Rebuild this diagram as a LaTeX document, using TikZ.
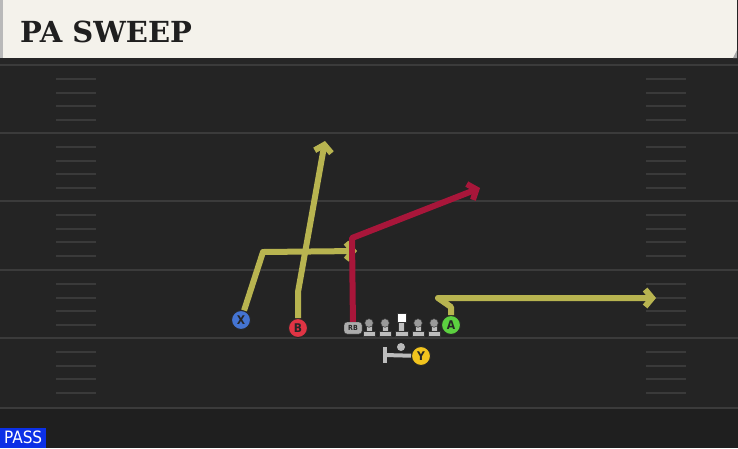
\documentclass[tikz,border=0pt]{standalone}
\usepackage{fontspec}
\setmainfont{DejaVu Sans}
\newfontfamily\titlefont{DejaVu Serif}
\newfontfamily\labelfont{DejaVu Sans Condensed}
\usetikzlibrary{arrows.meta}
\definecolor{field}{HTML}{242424}
\definecolor{fieldlow}{HTML}{1F1F1F}
\definecolor{yardline}{HTML}{3B3B3B}
\definecolor{hashmark}{HTML}{3A3A3A}
\definecolor{header}{HTML}{F4F2EB}
\definecolor{routeyellow}{HTML}{B8B450}
\definecolor{routered}{HTML}{A8163A}
\definecolor{xblue}{HTML}{4474D2}
\definecolor{bred}{HTML}{E03444}
\definecolor{agreen}{HTML}{5CD040}
\definecolor{yyellow}{HTML}{F2C41E}
\definecolor{linegray}{HTML}{BDBDBD}
\definecolor{headgray}{HTML}{9A9A9A}
\definecolor{passblue}{HTML}{0B30E6}
\begin{document}
\begin{tikzpicture}[x=1pt, y=-1pt]
  \tikzstyle{player}=[circle, draw=black!85, line width=1pt, minimum size=19pt,
    inner sep=0pt, font=\labelfont\bfseries\fontsize{12}{12}\selectfont, text=black!85]
  \tikzstyle{route}=[line width=6pt, line join=round,
    -{Straight Barb[length=7pt, width=17pt]}]
  \tikzstyle{lineman}=[fill=linegray, draw=black!80, line width=0.5pt]
  \useasboundingbox (0,0) rectangle (738,448);
  \fill[field] (0,0) rectangle (738,448);
  \fill[fieldlow] (0,409) rectangle (738,448);
  \fill[black!85] (0,58) rectangle (738,64);
  \foreach \y in {65, 133, 201, 270, 338, 408} {
    \draw[yardline, line width=2pt] (0, \y) -- (738, \y);
  }
  \foreach \y in {65, 133, 201, 270, 338} {
    \foreach \d in {14, 28, 41, 55} {
      \draw[hashmark, line width=1.6pt] (56, \y+\d) -- (96, \y+\d);
      \draw[hashmark, line width=1.6pt] (646, \y+\d) -- (686, \y+\d);
    }
  }
  \fill[header] (0,0) rectangle (737,58);
  \fill[gray!55] (0,0) rectangle (3,58);
  \fill[gray!70] (737,50) -- (737,58) -- (733,58) -- cycle;
  \node[anchor=base west, inner sep=0pt, text=black!88,
    font=\titlefont\bfseries\fontsize{29}{29}\selectfont] (title) at (20,42) {PA SWEEP};
  \node[anchor=south west, fill=passblue, text=white, inner sep=0pt,
    minimum width=46pt, minimum height=20pt,
    font=\labelfont\fontsize{17}{17}\selectfont] (pass) at (0,448) {PASS};
  \foreach \x in {369, 385, 418, 434} {
    \filldraw[lineman] (\x-6,331) rectangle (\x+6,336.5);
    \filldraw[lineman] (\x-3,323) rectangle (\x+3,331.5);
    \filldraw[lineman, fill=headgray] (\x,323) circle (4.3);
  }
  \filldraw[lineman] (395,331) rectangle (408,336.5);
  \filldraw[lineman] (398.5,322) rectangle (404.5,331.5);
  \filldraw[lineman, fill=white] (397,313) rectangle (406,322);
  \node[rounded corners=3pt, fill=gray!65, draw=black!80, minimum width=18pt,
    minimum height=12pt, inner sep=0pt, text=black!85,
    font=\labelfont\bfseries\fontsize{7}{7}\selectfont] (RB) at (353,328) {RB};
  \fill[gray!55] (401,347) circle (4);
  \node[player, fill=xblue] (X) at (241,320) {X};
  \node[player, fill=bred] (B) at (298,328) {B};
  \node[player, fill=agreen] (A) at (451,325) {A};
  \node[player, fill=yyellow] (Y) at (421,356) {Y};
  \coordinate (qbbar) at (385,355);
  \draw[linegray, line width=4pt] (Y) -- (qbbar);
  \draw[linegray, line width=4pt] (385,347) -- (385,363);
  \coordinate (x1) at (263,252);
  \coordinate (x2) at (357,251);
  \coordinate (b1) at (298,292);
  \coordinate (b2) at (325,141);
  \coordinate (rb1) at (352,238);
  \coordinate (rb2) at (480,188);
  \coordinate (a1) at (451,307);
  \coordinate (a2) at (438,298);
  \coordinate (a3) at (656,298);
  \draw[route, routeyellow] (X) -- (x1) -- (x2);
  \draw[route, routeyellow] (B) -- (b1) -- (b2);
  \draw[route, routered] (RB) -- (rb1) -- (rb2);
  \draw[route, routeyellow] (A) -- (a1) -- (a2) -- (a3);
\end{tikzpicture}
\end{document}
